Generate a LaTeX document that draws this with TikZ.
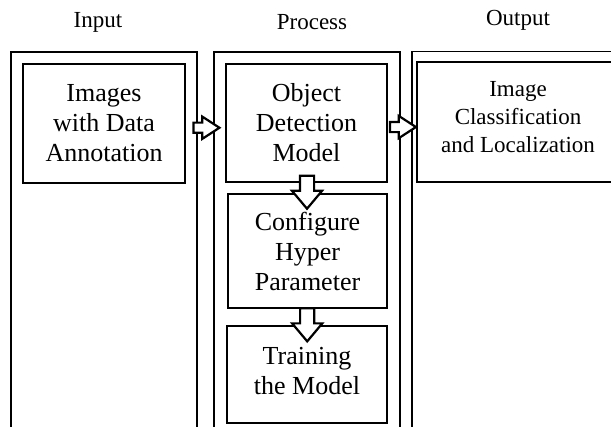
\documentclass[tikz,border=0pt]{standalone}
\usepackage{fontspec}
\setmainfont{Liberation Serif}
\usetikzlibrary{positioning,shapes.arrows}

\begin{document}
\begin{tikzpicture}[x=0.5pt, y=-0.5pt,
  col/.style={draw, line width=0.75pt, minimum width=93pt,
              minimum height=197.5pt, inner sep=0pt},
  box/.style={draw, line width=0.75pt, align=center, inner sep=0pt,
              font=\fontsize{13}{15}\selectfont},
  title/.style={font=\fontsize{11.5}{14}\selectfont},
  harr/.style={single arrow, draw, fill=white, line width=1.1pt, inner sep=0pt,
               single arrow head indent=0pt, text height=2pt, text depth=2pt,
               single arrow head extend=3pt, minimum height=13pt,
               single arrow tip angle=66},
  varr/.style={harr, rotate=-90, text height=3pt, text depth=3pt,
               single arrow head extend=4pt, minimum height=16.5pt,
               single arrow tip angle=80}
]
\useasboundingbox (0,0) rectangle (611,427);
\clip (0,0) rectangle (611,427);
% columns (open at the bottom, run off the page)
\node[col] (incol)   at (104,249.5) {};
\node[col] (proccol) at (307,249.5) {};
\node[col, minimum width=114pt] (outcol) at (526,249) {};
\node[title] (intitle)   at (98,22)  {Input};
\node[title] (proctitle) at (312,22) {Process};
\node[title] (outtitle)  at (518,20) {Output};
% boxes
\node[box, minimum width=81pt, minimum height=59.5pt] (inbox) at (104,123.5)
  {Images\\with Data\\Annotation};
\node[box, minimum width=80.5pt, minimum height=59pt] (objbox) at (306.5,123)
  {Object\\Detection\\Model};
\node[box, minimum width=79.5pt, minimum height=57pt] (cfgbox) at (307.5,251)
  {Configure\\Hyper\\Parameter};
\node[box, minimum width=80pt, minimum height=48.5pt, text depth=4pt] (trainbox) at (307,374.5)
  {Training\\the Model};
\node[box, minimum width=101pt, minimum height=60pt, text depth=5pt,
      font=\fontsize{11.5}{14}\selectfont] (outbox) at (518,122)
  {Image\\Classification\\and Localization};
% block arrows
\path (inbox) -- node[harr, xshift=-1.5pt, yshift=-2.25pt] (a1) {} (objbox);
\path (objbox) -- node[harr, xshift=-1.5pt, yshift=-2.25pt] (a2) {} (outbox);
\path (objbox) -- node[varr] (a3) {} (cfgbox);
\path (cfgbox) -- node[varr, pos=0.72] (a4) {} (trainbox);
\end{tikzpicture}
\end{document}
